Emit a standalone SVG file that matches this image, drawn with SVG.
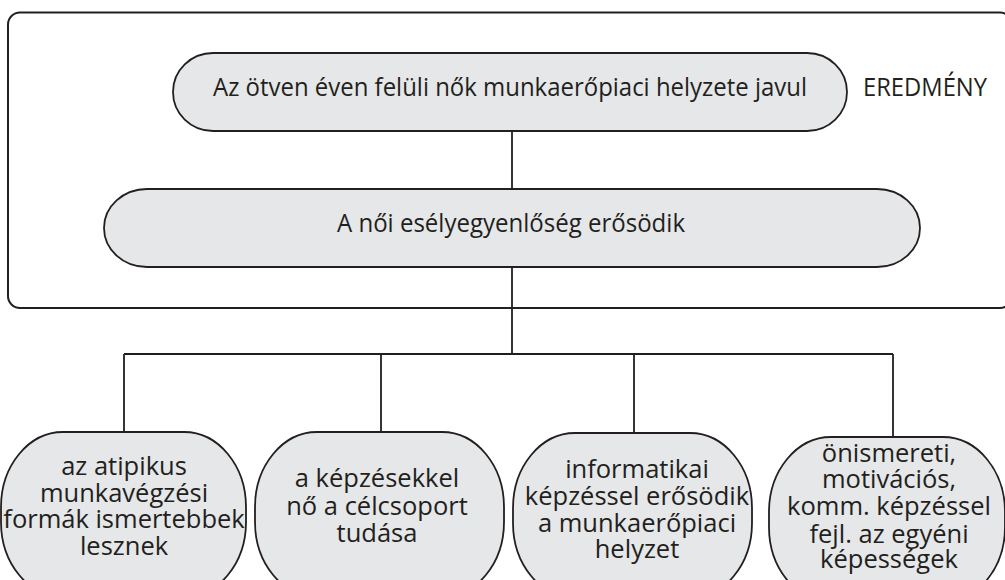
<svg xmlns="http://www.w3.org/2000/svg" width="1005" height="580" viewBox="0 0 1005 580">
<style>
.frame{fill:none;stroke:#231f20;stroke-width:2}
.node{fill:#e6e7e8;stroke:#231f20;stroke-width:1.8}
.conn{fill:none;stroke:#231f20;stroke-width:1.8}
.t{font-family:"Open Sans","Liberation Sans",sans-serif;fill:#231f20}
.big{font-size:25px}
.small{font-size:25.5px;text-anchor:middle}
</style>
<rect class="frame" x="8" y="12.5" width="1004" height="295.5" rx="12" ry="12"/>
<g id="connectors">
<path class="conn" d="M512 131V189M512 267V354M124 354H893M124 354V432M381 354V432M634 354V433M893 354V437"/>
</g>
<g id="node-top">
<rect class="node" x="173" y="53" width="674" height="78" rx="40" ry="39"/>
<text class="t big" x="213" y="96" textLength="594" lengthAdjust="spacingAndGlyphs">Az ötven éven felüli nők munkaerőpiaci helyzete javul</text>
</g>
<g id="label-eredmeny">
<text class="t big" x="863" y="96" textLength="124" lengthAdjust="spacingAndGlyphs">EREDMÉNY</text>
</g>
<g id="node-mid">
<rect class="node" x="104" y="189" width="816" height="78" rx="43" ry="39"/>
<text class="t big" x="337" y="232" textLength="348" lengthAdjust="spacingAndGlyphs">A női esélyegyenlőség erősödik</text>
</g>
<g id="node-b1">
<rect class="node" x="1" y="432" width="245" height="165" rx="62" ry="75"/>
<text class="t small" x="124" y="475">az atipikus</text>
<text class="t small" x="124" y="502">munkavégzési</text>
<text class="t small" x="124" y="528">formák ismertebbek</text>
<text class="t small" x="124" y="555">lesznek</text>
</g>
<g id="node-b2">
<rect class="node" x="255" y="432" width="249" height="165" rx="62" ry="75"/>
<text class="t small" x="377" y="487">a képzésekkel</text>
<text class="t small" x="377" y="515">nő a célcsoport</text>
<text class="t small" x="377" y="542">tudása</text>
</g>
<g id="node-b3">
<rect class="node" x="513" y="433" width="239" height="165" rx="62" ry="75"/>
<text class="t small" x="637" y="478">informatikai</text>
<text class="t small" x="637" y="505">képzéssel erősödik</text>
<text class="t small" x="637" y="532">a munkaerőpiaci</text>
<text class="t small" x="637" y="558">helyzet</text>
</g>
<g id="node-b4">
<rect class="node" x="769" y="437" width="236" height="165" rx="62" ry="75"/>
<text class="t small" x="889" y="462">önismereti,</text>
<text class="t small" x="889" y="488">motivációs,</text>
<text class="t small" x="889" y="515">komm. képzéssel</text>
<text class="t small" x="889" y="543">fejl. az egyéni</text>
<text class="t small" x="889" y="568">képességek</text>
</g>
</svg>
